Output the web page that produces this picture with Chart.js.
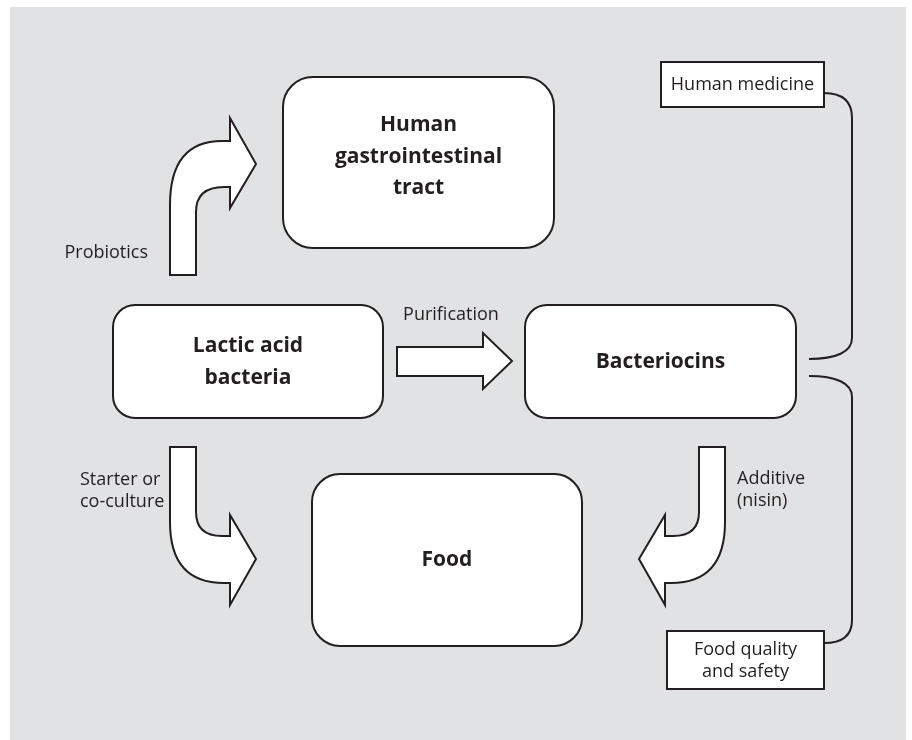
<!DOCTYPE html>
<html>
<head>
<meta charset="utf-8">
<script src="https://cdn.jsdelivr.net/npm/chart.js@4.4.0/dist/chart.umd.min.js"></script>
<style>
body{margin:0;background:#fff}
#wrap{position:absolute;left:0;top:0;width:912px;height:740px}
</style>
</head>
<body>
<div id="wrap"><canvas id="diagram" width="912" height="740"></canvas></div>
<script>
// diagram content
const boxNames = ["Human\ngastrointestinal\ntract", "Lactic acid\nbacteria", "Bacteriocins", "Food"]
const noteNames = ["Human medicine", "Food quality\nand safety"]
const arrowNames = ["Probiotics", "Purification", "Starter or\nco-culture", "Additive\n(nisin)"]

// layout, in the chart's own units (x 0..912, y 0..740 going down)
const boxLeft   = [283, 113, 525, 312]
const boxRight  = [554, 383, 796, 582]
const boxTop    = [77, 305, 305, 474]
const boxBottom = [248, 418, 418, 646]
const boxRadius = [30, 22, 22, 28]
const boxTextY  = [157, 362, 362, 560]

const noteLeft   = [661, 667]
const noteRight  = [824, 824]
const noteTop    = [62, 631]
const noteBottom = [107, 689]
const noteTextY  = [85, 661]

const labelX     = [148, 451, 80, 737]
const labelY     = [253, 315, 491, 490]
const labelAlign = ["right", "center", "left", "left"]

const ink = "#231f20"
const panel = "#e1e2e4"

const diagramPlugin = {
  id: "diagram",
  beforeDraw(chart) {
    const ctx = chart.ctx
    const sx = v => chart.scales.x.getPixelForValue(v)
    const sy = v => chart.scales.y.getPixelForValue(v)
    ctx.save()
    ctx.fillStyle = "#fff"
    ctx.fillRect(0, 0, chart.width, chart.height)
    ctx.fillStyle = panel
    ctx.fillRect(sx(10), sy(7), sx(906) - sx(10), sy(740) - sy(7))
    ctx.restore()
  },
  afterDraw(chart) {
    const ctx = chart.ctx
    const sx = v => chart.scales.x.getPixelForValue(v)
    const sy = v => chart.scales.y.getPixelForValue(v)

    function lines(text, x, y, lh, font, align) {
      ctx.font = font
      ctx.textAlign = align
      ctx.textBaseline = "middle"
      ctx.fillStyle = ink
      const parts = text.split("\n")
      const start = y - (parts.length - 1) * lh / 2
      parts.forEach((p, i) => ctx.fillText(p, sx(x), sy(start + i * lh)))
    }

    ctx.save()
    ctx.lineWidth = 2
    ctx.strokeStyle = ink
    ctx.lineJoin = "miter"

    // rounded boxes
    boxNames.forEach((name, i) => {
      ctx.beginPath()
      ctx.roundRect(sx(boxLeft[i]), sy(boxTop[i]), sx(boxRight[i]) - sx(boxLeft[i]), sy(boxBottom[i]) - sy(boxTop[i]), boxRadius[i])
      ctx.fillStyle = "#fff"
      ctx.fill()
      ctx.stroke()
      const lh = i == 0 ? 31.5 : 32
      lines(name, (boxLeft[i] + boxRight[i]) / 2, boxTextY[i], lh, "bold 21px 'Open Sans'", "center")
    })

    // square note boxes
    noteNames.forEach((name, i) => {
      ctx.beginPath()
      ctx.rect(sx(noteLeft[i]), sy(noteTop[i]), sx(noteRight[i]) - sx(noteLeft[i]), sy(noteBottom[i]) - sy(noteTop[i]))
      ctx.fillStyle = "#fff"
      ctx.fill()
      ctx.stroke()
      lines(name, (noteLeft[i] + noteRight[i]) / 2, noteTextY[i], 22, "18px 'Open Sans'", "center")
    })

    // braces
    ctx.beginPath()
    ctx.moveTo(sx(824), sy(93))
    ctx.bezierCurveTo(sx(842), sy(93), sx(852), sy(101), sx(852), sy(118))
    ctx.lineTo(sx(852), sy(338))
    ctx.bezierCurveTo(sx(852), sy(352), sx(836), sy(359), sx(809), sy(359))
    ctx.moveTo(sx(809), sy(376))
    ctx.bezierCurveTo(sx(836), sy(376), sx(852), sy(383), sx(852), sy(397))
    ctx.lineTo(sx(852), sy(620))
    ctx.bezierCurveTo(sx(852), sy(636), sx(842), sy(643), sx(824), sy(643))
    ctx.stroke()

    // arrows
    function shape(cmds, mirror) {
      const X = v => sx(mirror ? 895 - v : v)
      ctx.beginPath()
      cmds.forEach(c => {
        if (c[0] == "M") ctx.moveTo(X(c[1]), sy(c[2]))
        else if (c[0] == "L") ctx.lineTo(X(c[1]), sy(c[2]))
        else ctx.quadraticCurveTo(X(c[1]), sy(c[2]), X(c[3]), sy(c[4]))
      })
      ctx.closePath()
      ctx.fillStyle = "#fff"
      ctx.fill()
      ctx.stroke()
    }

    // probiotics: up then right
    shape([["M",170,275],["L",170,205],["Q",170,141,222,141],["L",230,141],["L",230,118],["L",256,164],
           ["L",230,208],["L",230,187],["L",224,187],["Q",196,187,196,212],["L",196,275]])
    // purification: straight right
    shape([["M",397,347],["L",483,347],["L",483,333],["L",512,361],["L",483,389],["L",483,376],["L",397,376]])
    // starter: down then right, additive is its mirror image
    const bend = [["M",170,447],["L",196,447],["L",196,512],["Q",196,536,222,536],["L",230,536],["L",230,515],
                  ["L",256,559],["L",230,605],["L",230,583],["L",224,583],["Q",170,583,170,522]]
    shape(bend, false)
    shape(bend, true)

    // arrow labels
    arrowNames.forEach((name, i) => {
      lines(name, labelX[i], labelY[i], 22, "18px 'Open Sans'", labelAlign[i])
    })
    ctx.restore()
  }
}

new Chart(document.getElementById("diagram"), {
  type: "scatter",
  data: { datasets: [{ data: [], pointRadius: 0 }] },
  options: {
    responsive: false,
    animation: false,
    events: [],
    layout: { padding: 0 },
    plugins: { legend: { display: false }, tooltip: { enabled: false } },
    scales: {
      x: { type: "linear", min: 0, max: 912, display: false },
      y: { type: "linear", min: 0, max: 740, reverse: true, display: false }
    }
  },
  plugins: [diagramPlugin]
})
</script>
</body>
</html>
